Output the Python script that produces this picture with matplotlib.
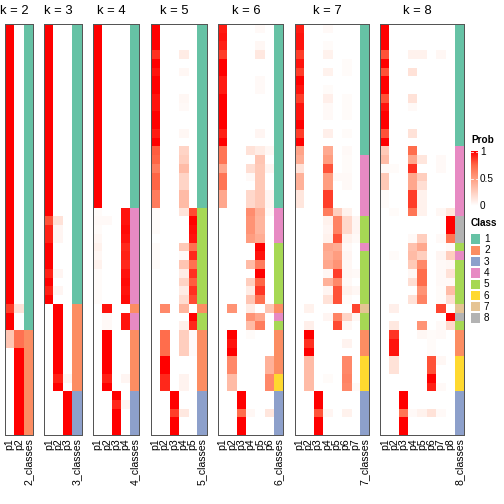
import matplotlib
matplotlib.use('Agg')
import matplotlib.pyplot as plt
import numpy as np
from matplotlib.colors import LinearSegmentedColormap, ListedColormap

plt.rcParams['font.family'] = ['Liberation Sans', 'DejaVu Sans']

# membership probabilities, one list per column (p1..pk), 47 samples each
prob_k2 = [
    [1,1,1,1,1,1,1,1,1,1, 1,1,1,1,1,1,1,1,1,1, 1,1,1,1,1,1,1,1,1,1, 1,1,.85,1,1,.3,.3,0,0,0, 0,0,0,0,0,0,0],
    [0,0,0,0,0,0,0,0,0,0, 0,0,0,0,0,0,0,0,0,0, 0,0,0,0,0,0,0,0,0,0, 0,0,.15,0,0,.7,.7,1,1,1, 1,1,1,1,1,1,1],
]
prob_k3 = [
    [1,1,1,1,1,1,1,1,1,1, 1,1,1,1,1,1,1,1,1,1, 1,1,.8,.92,.92,1,1,1,.92,1, .92,1,0,0,0,0,0,0,0,0, 0,0,0,0,0,0,0],
    [0,0,0,0,0,0,0,0,0,0, 0,0,0,0,0,0,0,0,0,0, 0,0,.15,.05,.05,0,0,0,.05,0, .05,0,1,1,1,1,1,1,1,1, .92,1,0,0,0,0,0],
    [0,0,0,0,0,0,0,0,0,0, 0,0,0,0,0,0,0,0,0,0, 0,0,0,0,0,0,0,0,0,0, 0,0,0,0,0,0,0,0,0,0, .05,0,1,1,1,1,1],
]
prob_k4 = [
    [1,1,1,1,1,1,1,1,1,1, 1,1,1,1,1,1,1,1,1,1, 1,.02,.03,.02,.04,.07,.04,.07,.02,.02, .02,.02,0,0,0,0,0,0,0,0, 0,0,0,0,0,0,0],
    [0,0,0,0,0,0,0,0,0,0, 0,0,0,0,0,0,0,0,0,0, 0,0,.03,0,0,0,0,0,0,0, 0,0,.95,.03,.03,1,1,1,1,1, .92,1,0,0,0,0,0],
    [0,0,0,0,0,0,0,0,0,0, 0,0,0,0,0,0,0,0,0,0, 0,0,0,0,0,0,0,0,0,0, 0,0,0,0,0,0,0,0,0,0, 0,0,1,.9,1,1,1],
    [0,0,0,0,0,0,0,0,0,0, 0,0,0,0,0,0,0,0,0,0, 0,.95,.95,.97,.95,.9,.92,.9,.95,.97, .95,.97,0,.95,.95,0,0,0,0,0, .05,0,0,.05,0,0,0],
]
prob_k5 = [
    [1,1,1,.88,1,.95,1,1,.95,.95, 1,1,.93,1,.77,.75,.65,.75,.75,.65, .65,.02,.02,.02,0,.02,.02,.02,0,0, 0,0,0,0,0,0,0,0,0,0, 0,0,0,0,0,0,0],
    [0,0,0,0,0,0,0,0,0,0, 0,0,0,0,0,0,0,0,0,0, 0,0,0,0,0,0,0,0,0,0, 0,0,.6,0,0,.72,.72,.72,1,1, .9,.9,0,0,0,0,0],
    [0,0,0,0,0,0,0,0,0,0, 0,0,0,0,0,0,0,0,0,0, 0,0,0,0,0,0,0,0,0,0, 0,0,0,0,0,0,0,0,0,0, 0,0,1,1,.85,1,1],
    [0,0,0,.1,0,.04,0,0,.04,.03, 0,0,.04,0,.22,.25,.35,.22,.22,.35, .35,.14,0,0,0,.28,.03,.3,.1,.23, .1,.18,.38,0,.08,.25,.25,.25,0,0, .06,.06,0,0,.12,0,0],
    [0,0,0,0,0,0,0,0,0,0, 0,0,0,0,0,0,0,0,0,0, 0,.82,1,.97,.95,.7,.9,.7,.88,.77, .88,.82,0,1,.9,.02,.02,.02,0,0, 0,0,0,0,0,0,0],
]
prob_k6 = [
    [.93,.95,.92,.85,1,1,.93,.93,1,1, 1,1,.92,1,.68,.68,.45,.68,.68,.45, .45,0,0,0,0,0,0,0,0,0, 0,0,0,0,0,0,0,0,0,0, 0,0,0,0,0,0,0],
    [0,0,0,0,0,0,0,0,0,0, 0,0,0,0,0,0,0,0,0,0, 0,0,0,0,0,0,0,0,0,0, 0,0,.55,0,0,1,.95,1,.6,.6, .35,.35,0,0,0,0,0],
    [0,0,0,0,0,0,0,0,0,0, 0,0,0,0,0,0,0,0,0,0, 0,0,0,0,0,0,0,0,0,0, 0,0,0,0,0,0,0,0,0,0, 0,0,1,1,.72,1,1],
    [0,0,0,0,0,0,0,0,0,0, 0,0,0,0,.15,0,.17,.03,0,.2, .2,.58,.55,.55,.5,0,0,.35,0,.25, .1,.3,.1,.55,.35,.02,0,0,0,0, 0,0,0,0,.04,0,0],
    [.03,0,.04,.12,0,0,.03,.03,0,0, 0,0,.05,0,.1,.3,.28,.28,.28,.28, .28,.4,.38,.38,.42,1,.95,.65,1,.75, .87,.7,0,.45,.65,0,0,0,0,0, 0,0,0,0,0,0,0],
    [0,0,0,0,0,0,0,0,0,0, 0,0,0,0,.04,0,.05,0,0,.05, .05,.03,0,0,0,0,0,0,0,0, 0,0,.3,0,0,0,0,0,.4,.4, .6,.6,0,0,.13,0,0],
]
prob_k7 = [
    [.93,.95,.95,.85,.95,.85,1,.95,.85,.95, .95,1,.85,1,.47,.42,.15,.4,.4,.13, .13,0,0,0,0,0,0,0,0,0, 0,0,0,0,0,0,0,0,0,0, 0,0,0,0,0,0,0],
    [0,0,0,0,0,0,0,0,0,0, 0,0,0,0,0,0,0,0,0,0, 0,0,0,0,0,0,0,0,0,0, 0,0,.07,0,.08,1,.88,1,.35,.35, .35,.35,0,0,0,0,0],
    [0,0,0,0,0,0,0,0,0,0, 0,0,0,0,0,0,0,0,0,0, 0,0,0,0,0,0,0,0,0,0, 0,0,0,0,0,0,0,0,0,0, 0,0,1,1,.8,1,1],
    [.03,0,.02,.07,0,.07,0,.02,.08,.03, .03,0,.08,0,.44,.5,.8,.5,.5,.85, .85,.65,.07,.05,.07,.45,.42,.45,.04,.4, .05,.15,0,.05,0,0,0,0,0,0, .02,0,0,0,.05,0,0],
    [0,0,0,0,0,0,0,0,0,0, 0,0,0,0,0,0,0,.03,0,0, 0,.25,.62,.62,.8,.42,.5,.55,.85,.6, .8,.8,0,.62,.82,0,0,0,0,0, 0,0,0,0,0,0,0],
    [0,0,0,0,.02,.02,0,0,.02,.02, .02,0,.02,0,.03,.02,.02,.03,.03,0, 0,.07,.2,.2,.07,.03,.05,.04,.04,.03, .07,.02,0,.22,.04,0,.06,0,.6,.6, .62,.6,0,0,.07,0,0],
    [0,0,0,0,0,0,0,0,0,0, 0,0,0,0,0,0,0,0,0,0, 0,0,.05,.05,.03,0,0,0,.03,0, .04,0,.83,.04,0,0,0,0,0,0, 0,.03,0,0,0,0,0],
]
prob_k8 = [
    [1,1,1,.8,1,.8,1,1,.8,.95, 1,1,.8,1,.28,.35,.03,.28,.28,.02, .02,0,0,0,0,0,0,0,0,0, 0,0,0,0,0,0,0,0,0,0, 0,0,0,0,0,0,0],
    [0,0,0,0,0,0,0,0,0,0, 0,0,0,0,0,0,.02,0,0,0, 0,.02,0,0,0,0,.02,0,0,0, 0,0,.08,0,.12,.87,.95,.95,.15,.15, 0,0,0,0,0,0,0],
    [0,0,0,0,0,0,0,0,0,0, 0,0,0,0,0,0,0,0,0,0, 0,0,0,0,0,0,0,0,0,0, 0,0,0,0,0,0,0,0,0,0, 0,0,1,1,.68,1,1],
    [0,0,0,.07,0,.15,0,0,.15,.03, 0,0,.15,0,.72,.45,.88,.45,.45,.85, .85,.68,0,0,.03,.32,.35,.28,.04,.17, 0,.15,0,0,0,0,0,0,0,0, 0,0,0,0,.03,0,0],
    [0,0,0,.07,0,0,0,0,0,0, 0,0,0,0,0,.13,0,.25,.17,.07, .07,.07,0,0,.25,.45,.25,.6,.72,.72, .55,.62,0,0,.55,.04,0,0,0,0, 0,0,0,0,.07,0,0],
    [0,0,0,0,0,0,0,0,0,0, 0,0,0,0,0,0,0,0,0,0, 0,0,0,0,0,0,0,0,0,0, 0,0,0,0,0,.02,.02,.02,.8,.8, 1,.92,0,0,.15,0,0],
    [0,0,0,.04,0,0,0,0,0,0, 0,0,0,0,0,.03,.03,0,0,0, 0,.04,0,0,.03,0,.05,.03,.03,.03, .02,.02,.83,0,.03,.03,0,0,.04,0, 0,.03,0,0,.03,0,0],
    [0,0,0,0,0,0,0,0,0,0, 0,0,0,0,0,0,0,0,0,0, 0,.13,1,1,.68,.03,.25,.04,.15,.03, .35,.17,0,1,.2,0,0,0,0,0, 0,0,0,0,0,0,0],
]

# predicted class per sample
class_k2 = [1,1,1,1,1,1,1,1,1,1, 1,1,1,1,1,1,1,1,1,1, 1,1,1,1,1,1,1,1,1,1, 1,1,1,1,1,2,2,2,2,2, 2,2,2,2,2,2,2]
class_k3 = [1,1,1,1,1,1,1,1,1,1, 1,1,1,1,1,1,1,1,1,1, 1,1,1,1,1,1,1,1,1,1, 1,1,2,2,2,2,2,2,2,2, 2,2,3,3,3,3,3]
class_k4 = [1,1,1,1,1,1,1,1,1,1, 1,1,1,1,1,1,1,1,1,1, 1,4,4,4,4,4,4,4,4,4, 4,4,2,4,4,2,2,2,2,2, 2,2,3,3,3,3,3]
class_k5 = [1,1,1,1,1,1,1,1,1,1, 1,1,1,1,1,1,1,1,1,1, 1,5,5,5,5,5,5,5,5,5, 5,5,2,5,5,2,2,2,2,2, 2,2,3,3,3,3,3]
class_k6 = [1,1,1,1,1,1,1,1,1,1, 1,1,1,1,1,1,1,1,1,1, 1,4,4,4,4,5,5,5,5,5, 5,5,2,4,5,2,2,2,2,2, 6,6,3,3,3,3,3]
class_k7 = [1,1,1,1,1,1,1,1,1,1, 1,1,1,1,1,4,4,4,4,4, 4,4,5,5,5,4,5,5,5,5, 5,5,7,5,5,2,2,2,6,6, 6,6,3,3,3,3,3]
class_k8 = [1,1,1,1,1,1,1,1,1,1, 1,1,1,1,4,4,4,4,4,4, 4,4,8,8,8,5,4,5,5,5, 5,5,7,8,5,2,2,2,6,6, 6,6,3,3,3,3,3]

ks = [2, 3, 4, 5, 6, 7, 8]
probs = [prob_k2, prob_k3, prob_k4, prob_k5, prob_k6, prob_k7, prob_k8]
classes = [class_k2, class_k3, class_k4, class_k5, class_k6, class_k7, class_k8]
class_colors = ['#66C2A5', '#FC8D62', '#8DA0CB', '#E78AC3',
                '#A6D854', '#FFD92F', '#E5C494', '#B3B3B3']

prob_cmap = LinearSegmentedColormap.from_list(
    'prob', [(0, '#FFFFFF'), (.25, '#FFCFBF'), (.5, '#FF9E81'),
             (.75, '#FF6746'), (1, '#FF0000')])
class_cmap = ListedColormap(class_colors)

W = H = 504
fig = plt.figure(figsize=(7, 7), dpi=72)


def px_axes(x, y, w, h):
    # axes placed in pixel coords measured from the top-left
    return fig.add_axes([x / W, 1 - (y + h) / H, w / W, h / H])


def px_text(x, y, s, **kw):
    fig.text(x / W, 1 - y / H, s, **kw)


col_w = 9.3
gap = 11.4
top, bottom = 24, 435
x = 5
for k, p, c in zip(ks, probs, classes):
    m = np.array(p, dtype=float).T
    n = m.shape[0]
    w = (k + 1) * col_w
    ax = px_axes(x, top, w, bottom - top)
    ax.imshow(m, cmap=prob_cmap, vmin=0, vmax=1, aspect='auto',
              interpolation='nearest', extent=(-0.5, k - 0.5, n - 0.5, -0.5))
    ax.imshow(np.array(c)[:, None], cmap=class_cmap, vmin=0.5, vmax=8.5,
              aspect='auto', interpolation='nearest',
              extent=(k - 0.5, k + 0.5, n - 0.5, -0.5))
    ax.set_xlim(-0.5, k + 0.5)
    ax.set_ylim(n - 0.5, -0.5)
    ax.set_xticks([])
    ax.set_yticks([])
    for s in ax.spines.values():
        s.set_color('#555555')
        s.set_linewidth(1.0)

    px_text(x + k * col_w / 2, 11, f'k = {k}', fontsize=13,
            ha='center', va='center')
    for j in range(k):
        px_text(x + (j + 0.5) * col_w, 438.5, f'p{j + 1}', fontsize=10.5,
                rotation=90, ha='center', va='top')
    px_text(x + (k + 0.5) * col_w, 438.5, f'{k}_classes', fontsize=10.5,
            rotation=90, ha='center', va='top')
    x += w + gap

# legends
px_text(471, 140, 'Prob', fontsize=10, fontweight='bold', va='center')
cax = px_axes(471, 149, 6.6, 60)
grad = np.linspace(0, 1, 100)[:, None]
cax.imshow(grad, cmap=prob_cmap, aspect='auto', origin='lower',
           extent=(0, 1, 0, 1))
cax.set_xlim(0, 1)
cax.set_ylim(-0.05, 1.05)
cax.axis('off')
for v in [0.5, 1]:
    cax.plot([0, 0.25], [v, v], color='white', lw=0.8)
    cax.plot([0.75, 1], [v, v], color='white', lw=0.8)
for v, lab in zip([1, 0.5, 0], ['1', '0.5', '0']):
    px_text(480, 149 + (1.05 - v) / 1.1 * 60, lab, fontsize=10, va='center')

px_text(471, 223, 'Class', fontsize=10, fontweight='bold', va='center')
for i, col in enumerate(class_colors):
    yy = 234.3 + 11.3 * i
    sq = px_axes(470.7, yy, 9.3, 9.3)
    sq.set_facecolor(col)
    sq.set_xticks([])
    sq.set_yticks([])
    for s in sq.spines.values():
        s.set_visible(False)
    px_text(484, yy + 4.8, str(i + 1), fontsize=10, va='center')

fig.savefig('out.png', dpi=72)
